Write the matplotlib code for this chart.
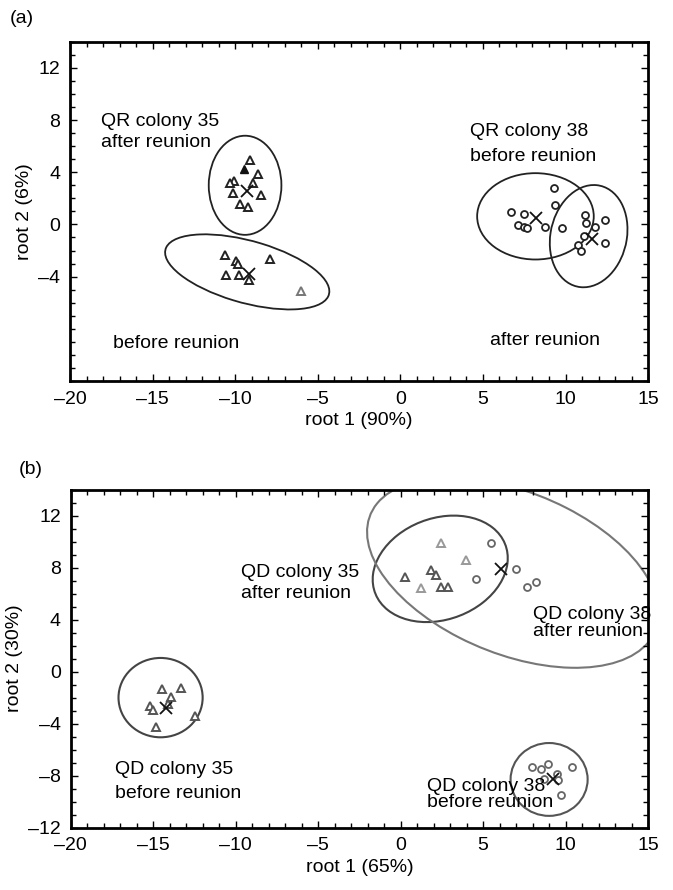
import matplotlib
matplotlib.use('Agg')
import matplotlib.pyplot as plt
from matplotlib.patches import Ellipse
from matplotlib.ticker import MultipleLocator

plt.rcParams['font.family'] = ['Liberation Sans', 'DejaVu Sans']
plt.rcParams['font.size'] = 14

# shared axis ticks
x_ticks = [-20, -15, -10, -5, 0, 5, 10, 15]
x_tick_labels = ['\u201320', '\u201315', '\u201310', '\u20135', '0', '5', '10', '15']
a_y_ticks = [12, 8, 4, 0, -4]
a_y_tick_labels = ['12', '8', '4', '0', '\u20134']
b_y_ticks = [12, 8, 4, 0, -4, -8, -12]
b_y_tick_labels = ['12', '8', '4', '0', '\u20134', '\u20138', '\u201312']

# panel (a): QR colonies
a_qr35_after_x = [-9.13, -8.62, -10.1, -10.3, -8.95, -10.16, -8.44, -9.7, -9.25]
a_qr35_after_y = [4.95, 3.9, 3.33, 3.15, 3.15, 2.44, 2.25, 1.54, 1.36]
a_qr35_after_filled_x = [-9.45]
a_qr35_after_filled_y = [4.28]
a_qr35_before_x = [-10.6, -9.96, -9.8, -7.92, -10.56, -9.74, -9.15]
a_qr35_before_y = [-2.31, -2.82, -3.02, -2.69, -3.85, -3.85, -4.23]
a_qr35_before_faint_x = [-6.02]
a_qr35_before_faint_y = [-5.13]
a_qr38_before_x = [9.29, 9.35, 6.71, 7.47, 7.13, 7.47, 7.68, 8.75, 9.8]
a_qr38_before_y = [2.77, 1.46, 0.95, 0.82, -0.08, -0.21, -0.31, -0.21, -0.31]
a_qr38_after_x = [11.17, 11.25, 12.38, 11.78, 11.11, 10.75, 10.95, 12.42]
a_qr38_after_y = [0.69, 0.08, 0.31, -0.18, -0.9, -1.54, -2.0, -1.46]
a_centroid_x = [-9.29, -9.19, 8.24, 11.58]
a_centroid_y = [2.56, -3.77, 0.52, -1.08]
# ellipses: centre x, centre y, width, height, angle
a_ell_cx = [-9.4, -9.27, 8.18, 11.4]
a_ell_cy = [3.0, -3.64, 0.62, -0.9]
a_ell_w = [4.4, 10.5, 7.06, 7.88]
a_ell_h = [7.6, 4.67, 6.62, 4.64]
a_ell_ang = [0, -21, 0, 83]

# panel (b): QD colonies
b_qd35_before_x = [-14.48, -13.33, -13.94, -15.21, -15.03, -14.12, -12.48, -14.85]
b_qd35_before_y = [-1.33, -1.25, -1.95, -2.64, -2.95, -2.48, -3.41, -4.25]
b_qd35_after_x = [0.28, 1.82, 2.16, 2.42, 2.87]
b_qd35_after_y = [7.31, 7.82, 7.44, 6.49, 6.49]
b_qd35_after_faint_x = [2.47, 3.94, 1.25]
b_qd35_after_faint_y = [9.88, 8.59, 6.46]
b_qd38_after_x = [5.5, 4.55, 7.01, 7.68, 8.22]
b_qd38_after_y = [9.88, 7.13, 7.88, 6.54, 6.92]
b_qd38_before_x = [7.94, 8.52, 8.93, 8.67, 9.45, 9.52, 10.36, 9.7]
b_qd38_before_y = [-7.37, -7.48, -7.14, -8.25, -7.91, -8.33, -7.33, -9.48]
b_centroid_x = [-14.24, 6.06, 9.24]
b_centroid_y = [-2.79, 7.88, -8.25]
b_ell_cx = [-14.55, 2.4, 6.8, 9.0]
b_ell_cy = [-2.0, 7.9, 7.6, -8.29]
b_ell_w = [5.1, 8.97, 19.6, 4.67]
b_ell_h = [6.1, 7.32, 11.9, 5.6]
b_ell_ang = [0, 45, -33, 0]
b_ell_col = ['#444444', '#444444', '#777777', '#555555']


def style_axes(ax, yticks, ylabels, xlabel, ylabel):
    ax.set_xlim(-20, 15)
    ax.set_ylim(-12, 14)
    ax.set_xticks(x_ticks, x_tick_labels)
    ax.set_yticks(yticks, ylabels)
    ax.xaxis.set_minor_locator(MultipleLocator(1))
    ax.yaxis.set_minor_locator(MultipleLocator(1))
    ax.tick_params(which='both', direction='in', top=True, right=True,
                   width=1, labelsize=14)
    ax.tick_params(which='major', length=5, pad=7)
    ax.tick_params(which='minor', length=3.5)
    for sp in ax.spines.values():
        sp.set_linewidth(2)
    ax.set_xlabel(xlabel, fontsize=14, labelpad=3)
    ax.set_ylabel(ylabel, fontsize=14, labelpad=4)


fig = plt.figure(figsize=(6.73, 8.9), dpi=100)
ax_a = fig.add_axes([0.104, 0.572, 0.859, 0.381])
ax_b = fig.add_axes([0.105, 0.070, 0.858, 0.380])

# ---- panel (a)
for cx, cy, w, h, ang in zip(a_ell_cx, a_ell_cy, a_ell_w, a_ell_h, a_ell_ang):
    ax_a.add_patch(Ellipse((cx, cy), w, h, angle=ang, fill=False,
                           edgecolor='#222222', lw=1.3))
tri = dict(ls='none', marker='^', ms=5.5, mfc='white', mew=1.4)
circ = dict(ls='none', marker='o', ms=5, mfc='white', mew=1.3)
ax_a.plot(a_qr35_after_x, a_qr35_after_y, mec='#222222', **tri)
ax_a.plot(a_qr35_after_filled_x, a_qr35_after_filled_y, ls='none', marker='^',
          ms=5.5, color='#111111')
ax_a.plot(a_qr35_before_x, a_qr35_before_y, mec='#222222', **tri)
ax_a.plot(a_qr35_before_faint_x, a_qr35_before_faint_y, mec='#777777', **tri)
ax_a.plot(a_qr38_before_x, a_qr38_before_y, mec='#222222', **circ)
ax_a.plot(a_qr38_after_x, a_qr38_after_y, mec='#222222', **circ)
ax_a.plot(a_centroid_x, a_centroid_y, ls='none', marker='x', ms=8, mew=1.3,
          color='#111111')

ax_a.text(-18.1, 7.9, 'QR colony 35', va='center')
ax_a.text(-18.1, 6.3, 'after reunion', va='center')
ax_a.text(-17.4, -9.1, 'before reunion', va='center')
ax_a.text(4.2, 7.1, 'QR colony 38', va='center')
ax_a.text(4.2, 5.2, 'before reunion', va='center')
ax_a.text(5.4, -8.9, 'after reunion', va='center')
style_axes(ax_a, a_y_ticks, a_y_tick_labels, 'root 1 (90%)', 'root 2 (6%)')

# ---- panel (b)
for cx, cy, w, h, ang, col in zip(b_ell_cx, b_ell_cy, b_ell_w, b_ell_h,
                                  b_ell_ang, b_ell_col):
    ax_b.add_patch(Ellipse((cx, cy), w, h, angle=ang, fill=False,
                           edgecolor=col, lw=1.5))
ax_b.plot(b_qd35_before_x, b_qd35_before_y, mec='#555555', **tri)
ax_b.plot(b_qd35_after_x, b_qd35_after_y, mec='#555555', **tri)
ax_b.plot(b_qd35_after_faint_x, b_qd35_after_faint_y, mec='#999999', **tri)
ax_b.plot(b_qd38_after_x, b_qd38_after_y, mec='#666666', **circ)
ax_b.plot(b_qd38_before_x, b_qd38_before_y, mec='#666666', **circ)
ax_b.plot(b_centroid_x, b_centroid_y, ls='none', marker='x', ms=8, mew=1.3,
          color='#111111')

ax_b.text(-9.7, 7.6, 'QD colony 35', va='center')
ax_b.text(-9.7, 6.0, 'after reunion', va='center')
ax_b.text(8.0, 4.4, 'QD colony 38', va='center')
ax_b.text(8.0, 3.1, 'after reunion', va='center')
ax_b.text(-17.3, -7.5, 'QD colony 35', va='center')
ax_b.text(-17.3, -9.35, 'before reunion', va='center')
ax_b.text(1.6, -8.85, 'QD colony 38', va='center')
ax_b.text(1.6, -10.1, 'before reunion', va='center')
style_axes(ax_b, b_y_ticks, b_y_tick_labels, 'root 1 (65%)', 'root 2 (30%)')

fig.text(0.015, 0.979, '(a)', fontsize=14, va='center')
fig.text(0.028, 0.472, '(b)', fontsize=14, va='center')

fig.savefig('out.png', dpi=100)
